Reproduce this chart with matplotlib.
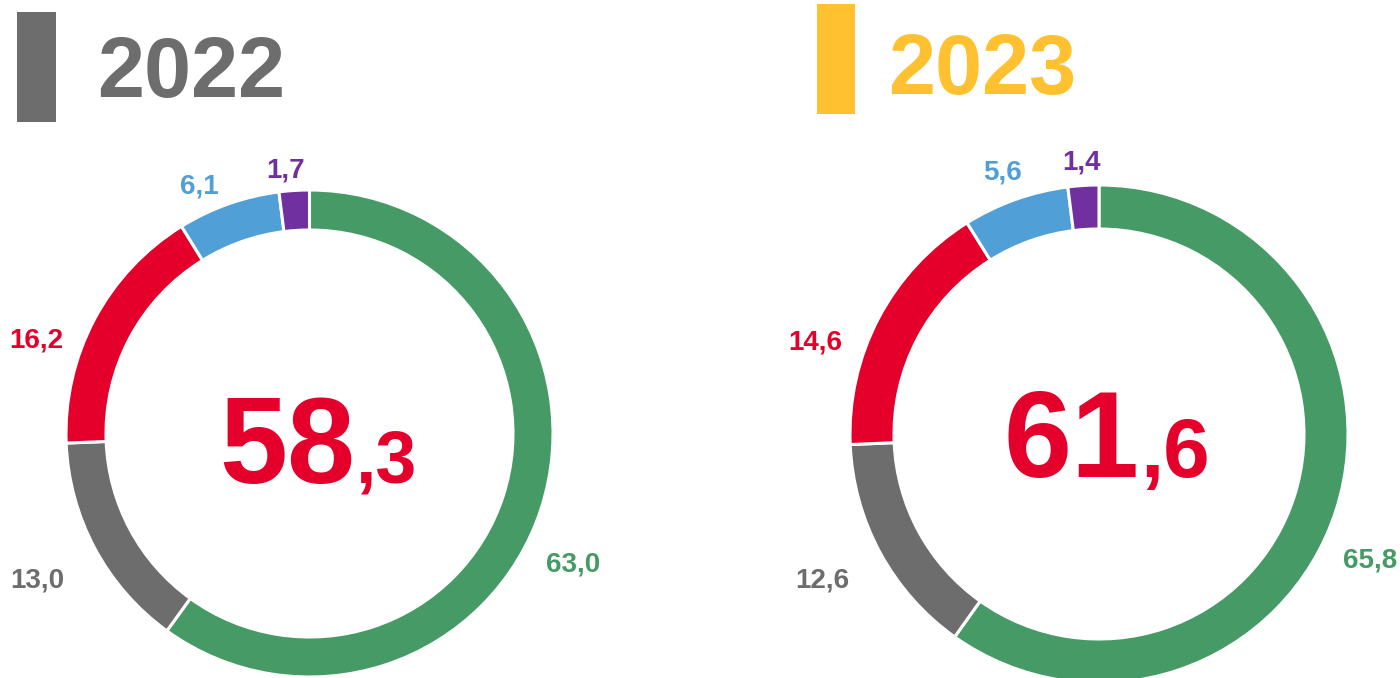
import matplotlib.pyplot as plt
from matplotlib.patches import Rectangle

plt.rcParams['font.family'] = ['Liberation Sans', 'DejaVu Sans']

# data
years = ['2022', '2023']
# ring segment sizes as drawn in the picture (percent of the circle)
ring_2022 = [59.9, 14.4, 16.8, 6.8, 2.0]
ring_2023 = [59.9, 14.5, 16.8, 6.9, 2.0]
# printed values
labels_2022 = ['63,0', '13,0', '16,2', '6,1', '1,7']
labels_2023 = ['65,8', '12,6', '14,6', '5,6', '1,4']
total_main = ['58', '61']
total_dec = [',3', ',6']

colors = ['#459A65', '#6D6D6D', '#E4002B', '#519FD7', '#7030A0']
year_colors = ['#6D6D6D', '#FFC12F']

W, H = 1400, 678
fig = plt.figure(figsize=(14, 6.78), dpi=100)
ax = fig.add_axes([0, 0, 1, 1])

# layout in pixels (from top-left)
donuts = [
    dict(cx=309.5, cy=433.5, r=243.5, w=40, bar=(17, 12, 39, 110), year_x=97, year_y=97,
         joint=355, base=483, fs_main=88, fs_dec=53,
         lab=[(573, 565), (37, 580), (36, 340), (199, 187), (286, 170)]),
    dict(cx=1099, cy=434, r=249, w=44, bar=(817, 4, 38, 110), year_x=888, year_y=94,
         joint=1140, base=477, fs_main=88, fs_dec=60,
         lab=[(1370, 560), (822, 580), (815, 342), (1002, 173), (1082, 163)]),
]
all_rings = [ring_2022, ring_2023]
all_labels = [labels_2022, labels_2023]

for i, d in enumerate(donuts):
    ax.pie(all_rings[i], colors=colors, startangle=90, counterclock=False,
           radius=d['r'], center=(d['cx'], H - d['cy']),
           wedgeprops=dict(width=d['w'], edgecolor='white', linewidth=2.2))
    for txt, col, (lx, ly) in zip(all_labels[i], colors, d['lab']):
        ax.text(lx, H - ly, txt, color=col, fontsize=20, fontweight='bold',
                ha='center', va='center')
    bx, by, bw, bh = d['bar']
    ax.add_patch(Rectangle((bx, H - by - bh), bw, bh, color=year_colors[i], lw=0))
    ax.text(d['year_x'], H - d['year_y'], years[i], color=year_colors[i],
            fontsize=61, fontweight='bold', ha='left', va='baseline')
    ax.text(d['joint'], H - d['base'], total_main[i], color='#E4002B',
            fontsize=d['fs_main'], fontweight='bold', ha='right', va='baseline')
    ax.text(d['joint'], H - d['base'], total_dec[i], color='#E4002B',
            fontsize=d['fs_dec'], fontweight='bold', ha='left', va='baseline')

ax.set_xlim(0, W)
ax.set_ylim(0, H)
ax.set_aspect('auto')
ax.axis('off')

fig.savefig('out.png', dpi=100, facecolor='white')
